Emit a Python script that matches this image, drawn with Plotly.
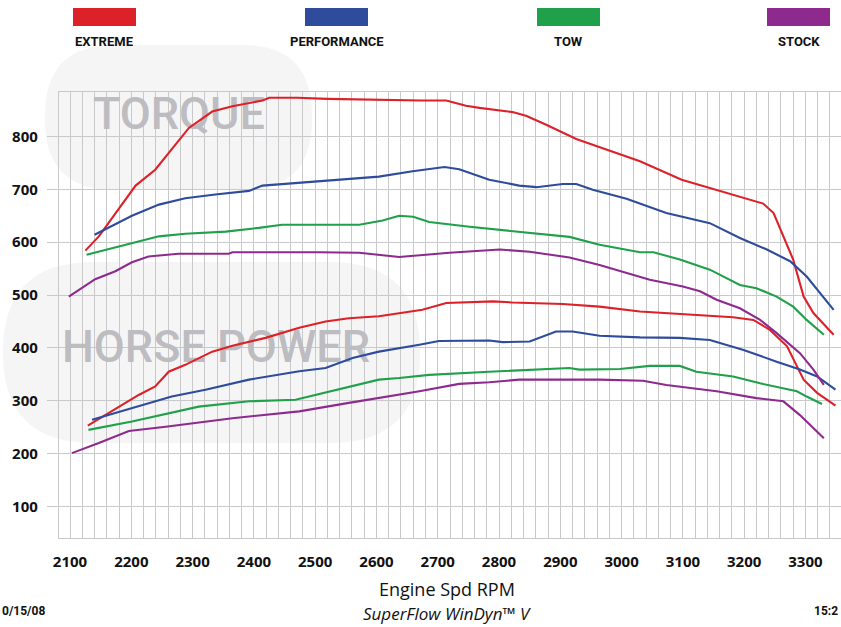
import plotly.graph_objects as go

# ---------------- data ----------------
rpm_ticks = [2100, 2200, 2300, 2400, 2500, 2600, 2700, 2800, 2900, 3000, 3100, 3200, 3300]
y_ticks = [100, 200, 300, 400, 500, 600, 700, 800]

series_names = ["EXTREME", "PERFORMANCE", "TOW", "STOCK"]

extreme_tq_rpm = [2125, 2147, 2207, 2239, 2294, 2332, 2365, 2414, 2425, 2470, 2520, 2604, 2673, 2714,
                  2746, 2768, 2822, 2844, 2877, 2926, 2986, 3030, 3098, 3182, 3231, 3248, 3264, 3280,
                  3297, 3313, 3346]
extreme_tq = [584, 611, 707, 737, 816, 847, 857, 868, 873, 873, 871, 869, 868, 868,
              858, 854, 846, 839, 822, 795, 770, 753, 718, 690, 673, 655, 611, 567,
              497, 466, 425]

perf_tq_rpm = [2140, 2201, 2245, 2288, 2337, 2392, 2414, 2446, 2506, 2572, 2604, 2659, 2711, 2735,
               2784, 2833, 2861, 2904, 2926, 2953, 3008, 3073, 3144, 3193, 3237, 3275, 3302, 3346]
perf_tq = [614, 650, 671, 683, 690, 697, 707, 710, 715, 721, 724, 734, 742, 738,
           718, 707, 704, 710, 710, 699, 682, 655, 636, 608, 586, 564, 535, 472]

tow_tq_rpm = [2127, 2201, 2245, 2288, 2354, 2408, 2446, 2506, 2572, 2610, 2637, 2660, 2686, 2752,
              2850, 2915, 2964, 3030, 3052, 3095, 3144, 3193, 3220, 3253, 3280, 3302, 3330]
tow_tq = [576, 598, 611, 616, 620, 627, 633, 633, 633, 641, 650, 648, 638, 629,
          618, 610, 595, 581, 581, 567, 548, 519, 513, 497, 478, 453, 425]

stock_tq_rpm = [2098, 2119, 2141, 2174, 2201, 2228, 2277, 2359, 2365, 2506, 2572, 2637, 2719, 2801,
                2850, 2915, 2964, 3046, 3100, 3128, 3155, 3193, 3226, 3253, 3291, 3313, 3330]
stock_tq = [497, 513, 530, 545, 562, 573, 578, 578, 581, 581, 580, 572, 580, 586,
            582, 571, 557, 529, 516, 507, 491, 475, 453, 428, 390, 359, 330]

extreme_hp_rpm = [2129, 2163, 2212, 2239, 2261, 2288, 2332, 2365, 2419, 2474, 2517, 2555, 2604, 2675,
                  2714, 2790, 2822, 2904, 2964, 3030, 3073, 3182, 3215, 3242, 3270, 3297, 3319, 3349]
extreme_hp = [253, 277, 311, 327, 355, 368, 393, 404, 419, 438, 450, 456, 460, 472,
              485, 488, 486, 483, 478, 469, 466, 458, 453, 434, 403, 340, 315, 291]

perf_hp_rpm = [2136, 2201, 2266, 2321, 2392, 2474, 2517, 2561, 2604, 2670, 2702, 2784, 2806, 2850,
               2893, 2920, 2964, 3030, 3095, 3144, 3199, 3253, 3291, 3319, 3349]
perf_hp = [264, 286, 308, 321, 340, 356, 362, 381, 393, 406, 413, 414, 411, 412,
           431, 431, 423, 420, 419, 415, 396, 374, 359, 346, 321]

tow_hp_rpm = [2130, 2201, 2310, 2392, 2468, 2501, 2572, 2604, 2637, 2686, 2784, 2850, 2915, 2931,
              2997, 3046, 3095, 3122, 3182, 3226, 3286, 3302, 3327]
tow_hp = [245, 261, 289, 299, 302, 311, 330, 340, 343, 349, 355, 359, 362, 359,
          360, 366, 366, 355, 346, 333, 318, 308, 294]

stock_hp_rpm = [2103, 2147, 2196, 2256, 2365, 2474, 2555, 2604, 2670, 2735, 2784, 2833, 2964, 3035,
                3073, 3155, 3220, 3264, 3291, 3330]
stock_hp = [201, 220, 243, 251, 267, 280, 296, 305, 318, 332, 335, 340, 340, 338,
            330, 318, 305, 299, 273, 229]

# ---------------- styling / layout ----------------
colors = ["#dc2129", "#2e4b9c", "#20a04a", "#8e2a8e"]
GRID = "#c9c9cc"
WATER = "#bdbdc1"
BLOB = "#f5f5f5"

W, H = 841, 627
ML, MR, MT, MB = 59, 0, 92, 89
PW, PH = W - ML - MR, H - MT - MB
X_RANGE = [2082, 3358]
Y_RANGE = [40.5, 884]


def paper_x(px):
    return (px - ML) / PW


def paper_y(py):
    return (H - MB - py) / PH


def data_x(px):
    return X_RANGE[0] + paper_x(px) * (X_RANGE[1] - X_RANGE[0])


def data_y(py):
    return Y_RANGE[0] + paper_y(py) * (Y_RANGE[1] - Y_RANGE[0])


def rounded_path(x0, y0, x1, y1, r):
    pts = lambda x, y: f"{paper_x(x):.5f},{paper_y(y):.5f}"
    return (f"M {pts(x0 + r, y0)} L {pts(x1 - r, y0)} Q {pts(x1, y0)} {pts(x1, y0 + r)} "
            f"L {pts(x1, y1 - r)} Q {pts(x1, y1)} {pts(x1 - r, y1)} "
            f"L {pts(x0 + r, y1)} Q {pts(x0, y1)} {pts(x0, y1 - r)} "
            f"L {pts(x0, y0 + r)} Q {pts(x0, y0)} {pts(x0 + r, y0)} Z")


fig = go.Figure()

# watermark words (drawn first so curves sit on top)
fig.add_trace(go.Scatter(
    x=[data_x(179), data_x(216)], y=[data_y(118), data_y(351)],
    text=["TORQUE", "HORSE POWER"], mode="text",
    textfont=dict(family="Roboto", size=[45, 45], color=WATER, weight=500),
    hoverinfo="skip", showlegend=False, cliponaxis=False))

curves = [
    (extreme_tq_rpm, extreme_tq, extreme_hp_rpm, extreme_hp),
    (perf_tq_rpm, perf_tq, perf_hp_rpm, perf_hp),
    (tow_tq_rpm, tow_tq, tow_hp_rpm, tow_hp),
    (stock_tq_rpm, stock_tq, stock_hp_rpm, stock_hp),
]
for name, col, (tx, ty, hx, hy) in zip(series_names, colors, curves):
    fig.add_trace(go.Scatter(x=tx, y=ty, mode="lines", name=name,
                             line=dict(color=col, width=2.1), showlegend=False))
    fig.add_trace(go.Scatter(x=hx, y=hy, mode="lines", name=name + " HP",
                             line=dict(color=col, width=2.1), showlegend=False))

shapes = [
    dict(type="path", xref="paper", yref="paper", layer="below",
         path=rounded_path(45, 45, 312, 190, 70), fillcolor=BLOB, line=dict(width=0)),
    dict(type="path", xref="paper", yref="paper", layer="below",
         path=rounded_path(3, 262, 420, 443, 90), fillcolor=BLOB, line=dict(width=0)),
]
annotations = []

# custom legend across the top
legend_left = [73, 305, 537, 767]
for name, col, lx in zip(series_names, colors, legend_left):
    shapes.append(dict(type="rect", xref="paper", yref="paper",
                       x0=paper_x(lx), x1=paper_x(lx + 63), y0=paper_y(26), y1=paper_y(8),
                       fillcolor=col, line=dict(width=0)))
    annotations.append(dict(text=name, xref="paper", yref="paper", x=paper_x(lx + 31.5),
                            y=paper_y(41), xanchor="center", yanchor="middle", showarrow=False,
                            font=dict(family="Roboto", size=13, color="#111111", weight=700)))

annotations += [
    dict(text="Engine Spd RPM", xref="paper", yref="paper", x=paper_x(447), y=paper_y(589),
         xanchor="center", yanchor="middle", showarrow=False,
         font=dict(family="Open Sans", size=18, color="#111111")),
    dict(text="SuperFlow WinDyn™ V", xref="paper", yref="paper", x=paper_x(447), y=paper_y(613),
         xanchor="center", yanchor="middle", showarrow=False,
         font=dict(family="Open Sans", size=17, color="#111111", style="italic")),
    dict(text="0/15/08", xref="paper", yref="paper", x=paper_x(0), y=paper_y(611),
         xanchor="left", yanchor="middle", showarrow=False,
         font=dict(family="Roboto", size=12, color="#111111", weight=700)),
    dict(text="15:2", xref="paper", yref="paper", x=paper_x(840), y=paper_y(611),
         xanchor="right", yanchor="middle", showarrow=False,
         font=dict(family="Roboto", size=12, color="#111111", weight=700)),
]

fig.update_layout(
    width=W, height=H,
    margin=dict(l=ML, r=MR, t=MT, b=MB, pad=0),
    paper_bgcolor="white", plot_bgcolor="rgba(0,0,0,0)",
    shapes=shapes, annotations=annotations, showlegend=False,
    xaxis=dict(range=X_RANGE, tickvals=rpm_ticks, ticktext=[str(v) for v in rpm_ticks],
               showgrid=True, gridcolor=GRID, gridwidth=1.3, zeroline=False,
               minor=dict(tick0=2100, dtick=20, showgrid=True, gridcolor=GRID, gridwidth=1.3),
               showline=True, mirror=True, linecolor=GRID, linewidth=1.3,
               ticks="", ticklabelstandoff=10,
               tickfont=dict(family="Open Sans", size=15, color="#111111", weight=700)),
    yaxis=dict(range=Y_RANGE, tickvals=y_ticks, showgrid=True, gridcolor=GRID, gridwidth=1.3,
               zeroline=False, showline=True, mirror=True, linecolor=GRID, linewidth=1.3,
               ticks="outside", ticklen=11, tickcolor=GRID, tickwidth=1.3, ticklabelstandoff=6,
               tickfont=dict(family="Open Sans", size=15, color="#111111", weight=700)),
)

fig.write_html("out.html", config={"displayModeBar": False},
               post_script="document.body.style.margin='0';document.body.style.overflow='hidden';")
